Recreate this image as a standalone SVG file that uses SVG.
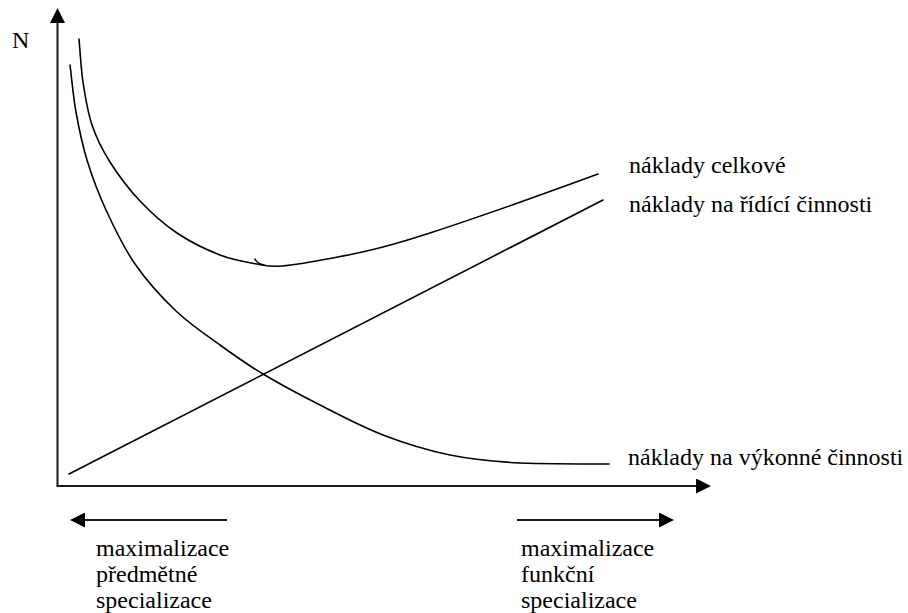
<svg xmlns="http://www.w3.org/2000/svg" width="908" height="613" viewBox="0 0 908 613">
  <style>
    .axis { stroke: #1a1a1a; stroke-width: 2; fill: none; }
    .curve { stroke: #000; stroke-width: 1.6; fill: none; stroke-linecap: round; }
    .lbl { font-family: "Liberation Serif", "Times New Roman", serif; font-size: 24px; fill: #000; }
  </style>
  <defs>
    <marker id="arrow" markerUnits="userSpaceOnUse" markerWidth="15" markerHeight="15" refX="0" refY="7.5" orient="auto">
      <path d="M0,0 L15,7.5 L0,15 Z" fill="#000"/>
    </marker>
  </defs>
  <rect width="908" height="613" fill="#fff"/>

  <g id="connectors">
    <g id="axes">
      <line class="axis" x1="57.5" y1="486" x2="57.5" y2="23" marker-end="url(#arrow)"/>
      <line class="axis" x1="56.5" y1="486" x2="696" y2="486" marker-end="url(#arrow)"/>
    </g>
    <g id="direction-arrows">
      <line class="axis" x1="227" y1="520" x2="85" y2="520" marker-end="url(#arrow)"/>
      <line class="axis" x1="517" y1="520" x2="659" y2="520" marker-end="url(#arrow)"/>
    </g>
  </g>

  <g id="curve-vykonne">
    <path class="curve" d="M70,65 C72,80.7 73.17,96.17 76,112 C78.83,127.83 82,143.67 87,160 C92,176.33 98,192.67 106,210 C114,227.33 123.33,247.17 135,264 C146.67,280.83 161.83,297.5 176,311 C190.17,324.5 205.5,334.5 220,345 C234.5,355.5 246.33,364 263,374 C279.67,384 300,394.83 320,405 C340,415.17 361.33,426.67 383,435 C404.67,443.33 427.17,450.33 450,455 C472.83,459.67 493.5,461.5 520,463 C546.5,464 579.3,464 609,464"/>
  </g>

  <g id="curve-celkove">
    <path class="curve" d="M79,39 C80.33,53.33 80.83,67.67 83,82 C85.17,96.33 87.5,111.67 92,125 C96.5,138.33 102,149.33 110,162 C118,174.67 128.83,189.17 140,201 C151.17,212.83 163.67,224 177,233 C190.33,242 206.67,249.83 220,255 C233.33,260.17 246.67,262.17 257,264 C267.33,265.83 269.33,267 282,266 C294.67,265 316.17,261.17 333,258 C349.83,254.83 366.33,251.33 383,247 C399.67,242.67 411,239.17 433,232 C455,224.83 487.5,213.67 515,204 C542.5,194.33 570.33,184 598,174"/>
    <path class="curve" d="M255,259 Q257,263.5 264,265"/>
  </g>

  <g id="curve-ridici">
    <line class="curve" x1="69" y1="474" x2="603" y2="200"/>
  </g>

  <g id="labels">
    <g id="label-N"><text class="lbl" x="12" y="48">N</text></g>
    <g id="label-celkove"><text class="lbl" x="629" y="173">náklady celkové</text></g>
    <g id="label-ridici"><text class="lbl" x="629" y="212">náklady na řídící činnosti</text></g>
    <g id="label-vykonne"><text class="lbl" x="628" y="465">náklady na výkonné činnosti</text></g>
    <g id="label-predmetne">
      <text class="lbl" x="96" y="556">maximalizace</text>
      <text class="lbl" x="96" y="582">předmětné</text>
      <text class="lbl" x="96" y="608">specializace</text>
    </g>
    <g id="label-funkcni">
      <text class="lbl" x="521" y="556">maximalizace</text>
      <text class="lbl" x="521" y="582">funkční</text>
      <text class="lbl" x="521" y="608">specializace</text>
    </g>
  </g>
</svg>
